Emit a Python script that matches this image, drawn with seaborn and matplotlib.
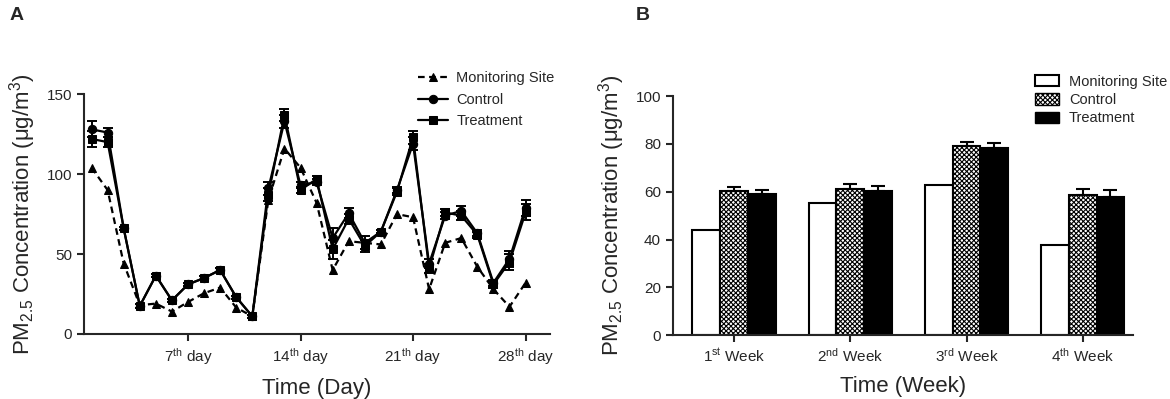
import numpy as np
import pandas as pd
import seaborn as sns
import matplotlib
matplotlib.use("Agg")
import matplotlib.pyplot as plt
from matplotlib.patches import Patch

# panel A: daily PM2.5
days = list(range(1, 29))
monitoring = [104, 90, 44, 18, 19, 14, 20, 25.5, 29, 16.5, 11, 84, 116, 104,
              82, 40, 58, 57, 56, 75, 73, 28, 57, 60, 42, 28, 17, 32]
control = [128, 126, 66, 17.5, 36.5, 21, 31, 35, 40, 23, 11, 91, 133, 93,
           95, 60, 75.5, 57, 64, 90, 119, 44, 74, 77, 63, 32, 47, 79]
treatment = [122, 120, 66, 17.5, 36.5, 21, 31, 35, 40, 23, 11, 87, 137, 90,
             97, 53, 72, 55, 64, 89, 123, 41, 76, 74, 62, 31, 45, 76]
control_err = [5, 3, 1, 1, 1, 1, 1, 1, 1, 1, 1, 4, 4, 2,
               2, 6, 3, 4, 1, 2, 4, 3, 2, 3, 2, 2, 5, 5]
treatment_err = [5, 3, 1, 1, 1, 1, 1, 1, 1, 1, 1, 4, 4, 2,
                 2, 6, 3, 4, 1, 2, 4, 3, 2, 3, 2, 2, 5, 5]
day_ticks = [7, 14, 21, 28]
day_labels = ["7$^{\\mathrm{th}}$ day", "14$^{\\mathrm{th}}$ day",
              "21$^{\\mathrm{th}}$ day", "28$^{\\mathrm{th}}$ day"]

# panel B: weekly means
weeks = ["1$^{\\mathrm{st}}$ Week", "2$^{\\mathrm{nd}}$ Week",
         "3$^{\\mathrm{rd}}$ Week", "4$^{\\mathrm{th}}$ Week"]
monitoring_week = [44, 55.4, 62.8, 37.7]
control_week = [60.3, 61, 79.3, 58.6]
treatment_week = [59.1, 60.3, 78.5, 57.9]
control_week_err = [1.8, 2.4, 1.4, 2.7]
treatment_week_err = [1.7, 2.3, 1.8, 2.8]

groups = ["Monitoring Site", "Control", "Treatment"]

sns.set_style("ticks")
plt.rcParams["font.family"] = ["Liberation Sans", "DejaVu Sans"]
plt.rcParams["mathtext.fontset"] = "custom"
plt.rcParams["mathtext.rm"] = "Liberation Sans"
plt.rcParams["mathtext.it"] = "Liberation Sans:italic"
plt.rcParams["hatch.linewidth"] = 0.8

fig = plt.figure(figsize=(11.7, 3.99), dpi=100)
ax1 = fig.add_axes([0.0718, 0.163, 0.398, 0.601])
ax2 = fig.add_axes([0.575, 0.160, 0.393, 0.599])

# ---- A ----
df_a = pd.DataFrame({
    "day": days * 3,
    "value": monitoring + control + treatment,
    "group": [groups[0]] * 28 + [groups[1]] * 28 + [groups[2]] * 28,
})
sns.lineplot(data=df_a, x="day", y="value", hue="group", style="group",
             palette=["black"] * 3,
             markers={"Monitoring Site": "^", "Control": "o", "Treatment": "s"},
             dashes={"Monitoring Site": (3, 2), "Control": "", "Treatment": ""},
             linewidth=1.6, markersize=6, markeredgecolor="black", ax=ax1)
ax1.errorbar(days, control, yerr=control_err, fmt="none", ecolor="black",
             elinewidth=1.4, capsize=3.5, capthick=1.4)
ax1.errorbar(days, treatment, yerr=treatment_err, fmt="none", ecolor="black",
             elinewidth=1.4, capsize=3.5, capthick=1.4)
ax1.set_xlim(0.53, 29.5)
ax1.set_ylim(0, 150)
ax1.set_yticks([0, 50, 100, 150])
ax1.set_xticks(day_ticks)
ax1.set_xticklabels(day_labels)
ax1.set_xlabel("Time (Day)", fontsize=16, labelpad=8)
ax1.set_ylabel("PM$_{2.5}$ Concentration (μg/m$^3$)", fontsize=16, labelpad=6)
ax1.legend(frameon=False, fontsize=10.5, loc="upper left",
           bbox_to_anchor=(0.69, 1.15), handlelength=2.0,
           handletextpad=0.6, labelspacing=0.5)

# ---- B ----
df_b = pd.DataFrame({
    "week": weeks * 3,
    "value": monitoring_week + control_week + treatment_week,
    "group": [groups[0]] * 4 + [groups[1]] * 4 + [groups[2]] * 4,
})
sns.barplot(data=df_b, x="week", y="value", hue="group",
            palette=["white", "white", "black"], edgecolor="black",
            linewidth=1.5, width=0.72, gap=0, legend=False, ax=ax2)
for bar in ax2.containers[1]:
    bar.set_hatch("xxxxxxx")
for cont, err in [(ax2.containers[1], control_week_err),
                  (ax2.containers[2], treatment_week_err)]:
    xs = [b.get_x() + b.get_width() / 2 for b in cont]
    ys = [b.get_height() for b in cont]
    ax2.errorbar(xs, ys, yerr=[np.zeros(len(err)), err], fmt="none",
                 ecolor="black", elinewidth=1.5, capsize=5, capthick=1.5)
ax2.set_xlim(-0.53, 3.43)
ax2.set_ylim(0, 100)
ax2.set_yticks(range(0, 101, 20))
ax2.set_xlabel("Time (Week)", fontsize=16, labelpad=8)
ax2.set_ylabel("PM$_{2.5}$ Concentration (μg/m$^3$)", fontsize=16, labelpad=6)
handles = [Patch(facecolor="white", edgecolor="black", linewidth=1.5),
           Patch(facecolor="white", edgecolor="black", hatch="xxxxxxx", linewidth=1.0),
           Patch(facecolor="black", edgecolor="black")]
ax2.legend(handles, groups, frameon=False, fontsize=10.5, loc="upper left",
           bbox_to_anchor=(0.76, 1.145), handlelength=1.6, handleheight=0.8,
           handletextpad=0.7, labelspacing=0.3)

for ax in (ax1, ax2):
    sns.despine(ax=ax)
    for sp in ("left", "bottom"):
        ax.spines[sp].set_linewidth(1.5)
    ax.tick_params(axis="both", labelsize=11, width=1.5, length=5, direction="out")

fig.text(0.008, 0.962, "A", fontsize=14, fontweight="bold", va="center")
fig.text(0.543, 0.962, "B", fontsize=14, fontweight="bold", va="center")

fig.savefig("out.png", dpi=100)
